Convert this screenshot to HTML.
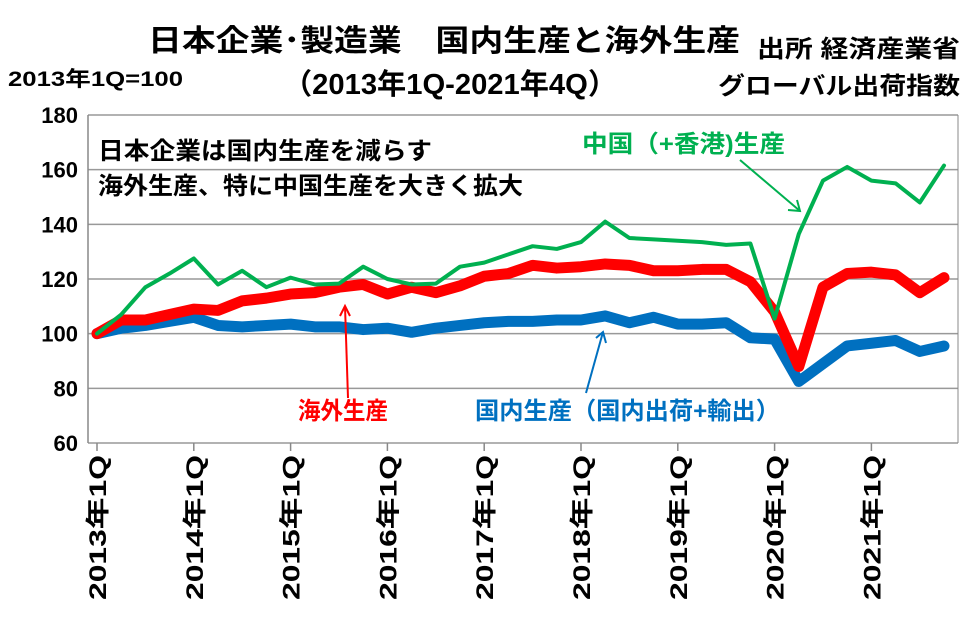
<!DOCTYPE html>
<html><head><meta charset="utf-8"><style>
body{margin:0;background:#fff;}
svg text{font-family:"Liberation Sans","Noto Sans CJK JP",sans-serif;font-weight:bold;}
</style></head><body>
<svg id="c" width="977" height="638" xmlns="http://www.w3.org/2000/svg">
<text x="148" y="51" font-size="30" textLength="592" lengthAdjust="spacingAndGlyphs">日本企業･製造業　国内生産と海外生産</text>
<text x="283" y="94" font-size="29" textLength="334" lengthAdjust="spacingAndGlyphs">（2013年1Q-2021年4Q）</text>
<text x="8" y="86" font-size="21" textLength="175" lengthAdjust="spacingAndGlyphs">2013年1Q=100</text>
<text x="757" y="57" font-size="24" textLength="203" lengthAdjust="spacingAndGlyphs">出所  経済産業省</text>
<text x="718" y="94" font-size="24" textLength="242" lengthAdjust="spacingAndGlyphs">グローバル出荷指数</text>
<g id="grid"></g><g id="yt"></g><g id="xt"></g><g id="lines"></g>
<text x="98" y="159" font-size="24" textLength="334" lengthAdjust="spacingAndGlyphs">日本企業は国内生産を減らす</text>
<text x="98" y="194" font-size="24" textLength="425" lengthAdjust="spacingAndGlyphs">海外生産、特に中国生産を大きく拡大</text>
<text x="582" y="152" font-size="24" fill="#00b050" textLength="203" lengthAdjust="spacingAndGlyphs">中国（+香港)生産</text>
<line x1="740" y1="160" x2="800" y2="211" stroke="#00b050" stroke-width="2"/>
<polyline points="788,210 800,211 797,200" fill="none" stroke="#00b050" stroke-width="2"/>
<text x="298" y="419" font-size="24" fill="#ff0000" textLength="90" lengthAdjust="spacingAndGlyphs">海外生産</text>
<line x1="348" y1="398" x2="345" y2="306" stroke="#ff0000" stroke-width="2"/>
<polyline points="340,316 345,306 350,316" fill="none" stroke="#ff0000" stroke-width="2"/>
<text x="475" y="419" font-size="24" fill="#0070c0" textLength="305" lengthAdjust="spacingAndGlyphs">国内生産（国内出荷+輸出）</text>
<line x1="586" y1="393" x2="603" y2="332" stroke="#0070c0" stroke-width="2"/>
<polyline points="596,338 603,332 606,343" fill="none" stroke="#0070c0" stroke-width="2"/>
</svg>
<script>
const yTicks=[60,80,100,120,140,160,180];
const xLabels=["2013年1Q","2014年1Q","2015年1Q","2016年1Q","2017年1Q","2018年1Q","2019年1Q","2020年1Q","2021年1Q"];
const china=[100,107,117,122,127.5,118,123,117,120.5,118,118.3,124.5,120,118,118.3,124.5,126,129,132,131,133.5,141,135,134.5,134,133.5,132.5,133,105.5,136.5,156,161,156,155,148,161.5];
const overseas=[100,105,105,107,109,108.5,112,113,114.5,115,117,118,114.5,117,115,117.5,121,122,125,124,124.5,125.5,125,123,123,123.5,123.5,119,108,88,117,122,122.5,121.5,115,120.5];
const domestic=[100,102,103,104.5,106,103,102.5,103,103.5,102.5,102.5,101.5,102,100.5,102,103,104,104.5,104.5,105,105,106.5,104,106,103.5,103.5,104,98.5,98,82.5,89,95.5,96.5,97.5,93.5,95.5];
const NS="http://www.w3.org/2000/svg";
const L=88,R=958,T=115,B=443;
const y=v=>B-(v-60)/120*(B-T);
const x=i=>97+i*24.2;
function mk(t,a,p){const e=document.createElementNS(NS,t);for(const k in a)e.setAttribute(k,a[k]);document.getElementById(p).appendChild(e);return e;}
yTicks.forEach(v=>{
 const g=mk('line',{x1:L,x2:R,y1:y(v),y2:y(v),stroke:'#999','stroke-width':1.5},'grid');
 
 
 const t=mk('text',{x:L-10,y:y(v)+8,'font-size':22,'text-anchor':'end'},'yt');t.textContent=v;
 
 
});
mk('line',{x1:L,x2:L,y1:T,y2:B,stroke:'#888','stroke-width':1.5},'grid');
mk('line',{x1:R,x2:R,y1:T,y2:B,stroke:'#888','stroke-width':1},'grid');
xLabels.forEach((s,k)=>{
 const xx=x(k*4);
 mk('line',{x1:xx,x2:xx,y1:B,y2:B+8,stroke:'#888','stroke-width':1.5},'xt');
 const t=mk('text',{transform:`translate(${xx+9},600) rotate(-90)`,'font-size':24,textLength:145,lengthAdjust:'spacingAndGlyphs'},'xt');t.textContent=s;
 
 
});
function line(d,c,w,n){
 const p=mk('polyline',{points:d.map((v,i)=>x(i)+','+y(v)).join(' '),fill:'none',stroke:c,'stroke-width':w,'stroke-linejoin':'round','stroke-linecap':'round'},'lines');
 
 
}
line(domestic,'#0070c0',11,'domestic-line');
line(overseas,'#ff0000',11,'overseas-line');
line(china,'#00b050',4,'china-line');
</script>
</body></html>
